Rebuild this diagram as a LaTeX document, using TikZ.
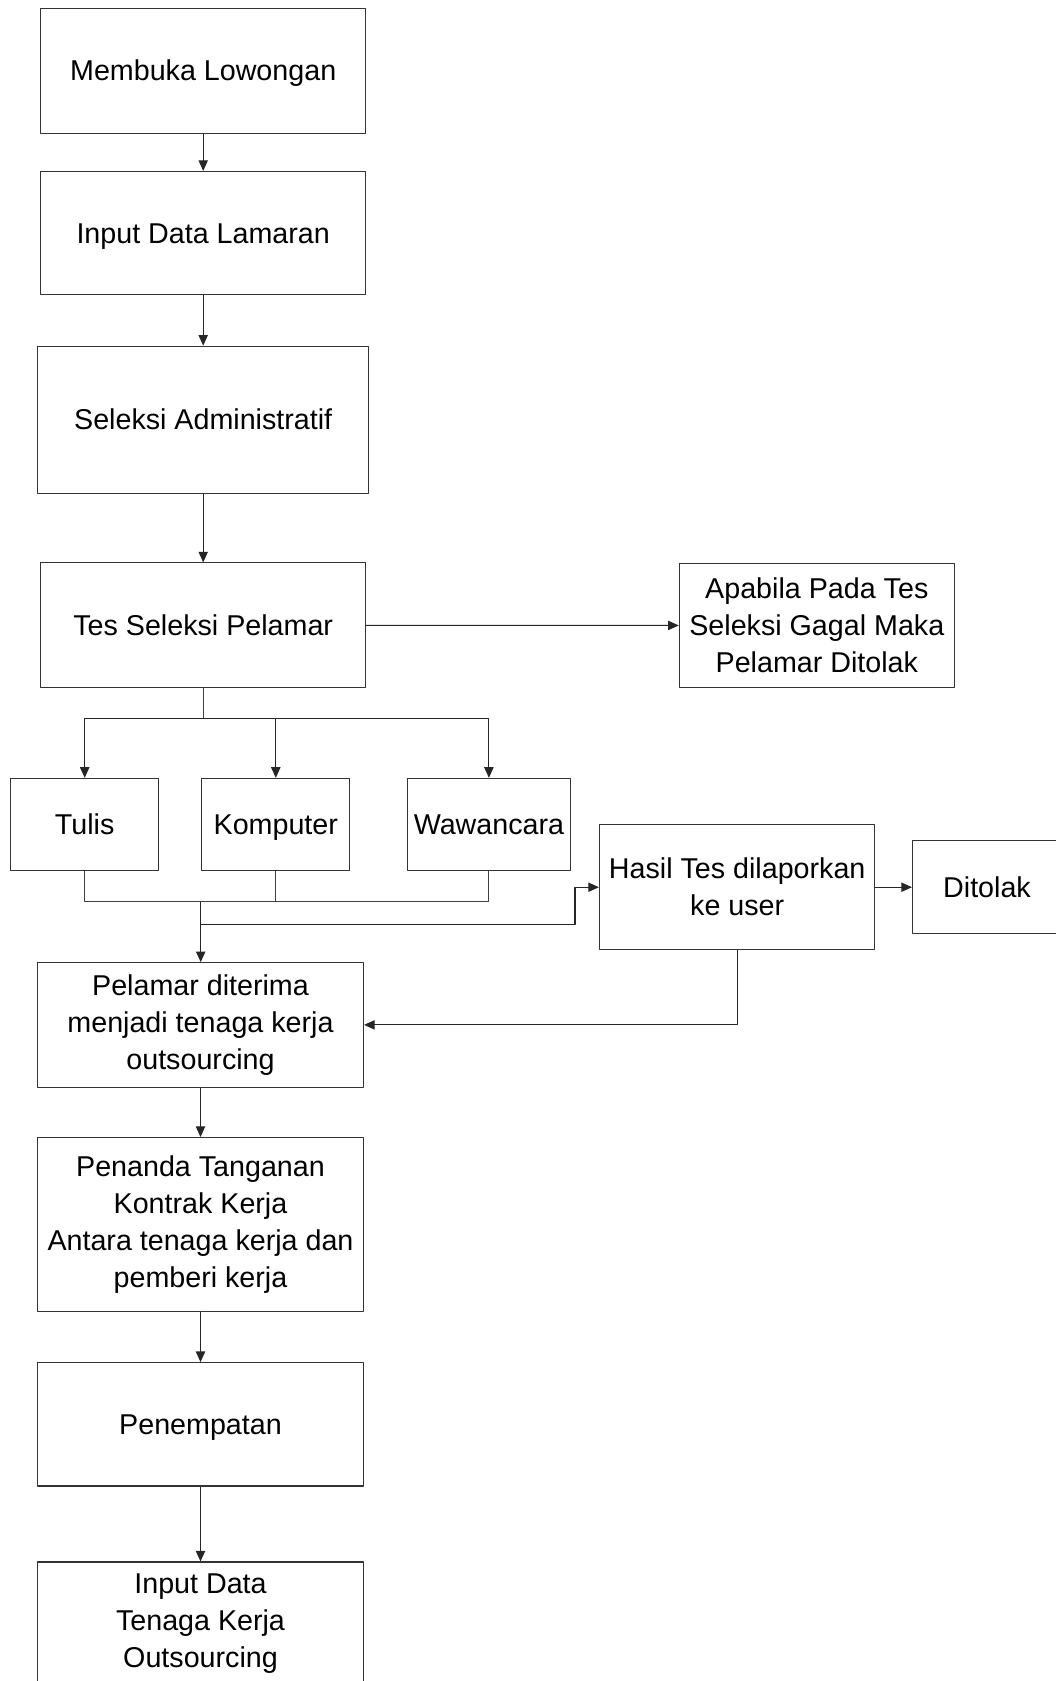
\documentclass[tikz,border=0pt]{standalone}
\usepackage{fontspec}
\setmainfont{Liberation Sans}
\usetikzlibrary{arrows.meta}

\tikzset{
    kotak/.style={draw=black!80, line width=0.8pt, inner sep=0pt,
        font=\fontsize{21.5}{27.75}\selectfont},
    satu/.style={text height=19.3pt, text depth=4.5pt},
    banyak/.style={align=center},
    ukuran/.style 2 args={minimum width=#1*0.75pt, minimum height=#2*0.75pt},
    panah/.style={draw=black!85, line width=0.8pt, -{Triangle[length=8pt, width=7pt]}},
    garis/.style={draw=black!75, line width=0.8pt}
}

\begin{document}
\begin{tikzpicture}[line join=round, x=0.75pt, y=-0.75pt]
    \useasboundingbox (0,0) rectangle (1056,1681);

    % alur utama
    \node[kotak, satu, ukuran={325}{124.5}] (buka) at (203.2,70.8) {Membuka Lowongan};
    \node[kotak, satu, ukuran={325}{123.5}] (lamaran) at (203.2,233.2) {Input Data Lamaran};
    \node[kotak, satu, ukuran={331}{147}] (admin) at (203.2,419.7) {Seleksi Administratif};
    \node[kotak, satu, ukuran={325}{124.5}] (tes) at (203.2,625.2) {Tes Seleksi Pelamar};
    \node[kotak, banyak, ukuran={275}{124.5}] (gagal) at (816.8,625.5)
        {Apabila Pada Tes\\Seleksi Gagal Maka\\Pelamar Ditolak};

    % jenis tes
    \node[kotak, satu, ukuran={148}{92}] (tulis) at (84.7,824.4) {Tulis};
    \node[kotak, satu, ukuran={148}{92}] (komputer) at (275.8,824.4) {Komputer};
    \node[kotak, satu, ukuran={163}{92}] (wawancara) at (488.9,824.4) {Wawancara};

    \node[kotak, banyak, ukuran={275.5}{125.5}] (hasil) at (737.2,887.2) {Hasil Tes dilaporkan\\ke user};
    \node[kotak, satu, ukuran={149}{93.3}] (ditolak) at (987,887.2) {Ditolak};

    \node[kotak, banyak, ukuran={326}{124.4}] (diterima) at (200.5,1024.9)
        {Pelamar diterima\\menjadi tenaga kerja\\outsourcing};
    \node[kotak, banyak, ukuran={326}{173.7}] (kontrak) at (200.5,1224.4)
        {Penanda Tanganan\\Kontrak Kerja\\Antara tenaga kerja dan\\pemberi kerja};
    \node[kotak, satu, ukuran={326}{123.3}] (penempatan) at (200.5,1424.3) {Penempatan};
    \node[kotak, banyak, ukuran={326}{124}] (inputtk) at (200.5,1624)
        {Input Data\\Tenaga Kerja\\Outsourcing};

    \coordinate (cabang) at (203.2,718.3);
    \coordinate (gabung) at (200.7,901.7);
    \coordinate (lapor) at (200.7,924.3);
    \coordinate (belok) at (575,924.3);

    \draw[panah] (buka) -- (lamaran);
    \draw[panah] (lamaran) -- (admin);
    \draw[panah] (admin) -- (tes);
    \draw[panah] (tes) -- (gagal);

    \draw[garis] (tes) -- (cabang);
    \foreach \t in {tulis, komputer, wawancara}{
        \draw[panah] (cabang) -| (\t);
        \draw[garis] (\t) |- (gabung);
    }
    \draw[panah] (gabung) -- (gabung |- diterima.north);
    \draw[panah] (lapor) -- (belok) |- (hasil);
    \draw[panah] (hasil) -- (ditolak);
    \draw[panah] (hasil) |- (diterima);

    \draw[panah] (diterima) -- (kontrak);
    \draw[panah] (kontrak) -- (penempatan);
    \draw[panah] (penempatan) -- (inputtk);
\end{tikzpicture}
\end{document}
